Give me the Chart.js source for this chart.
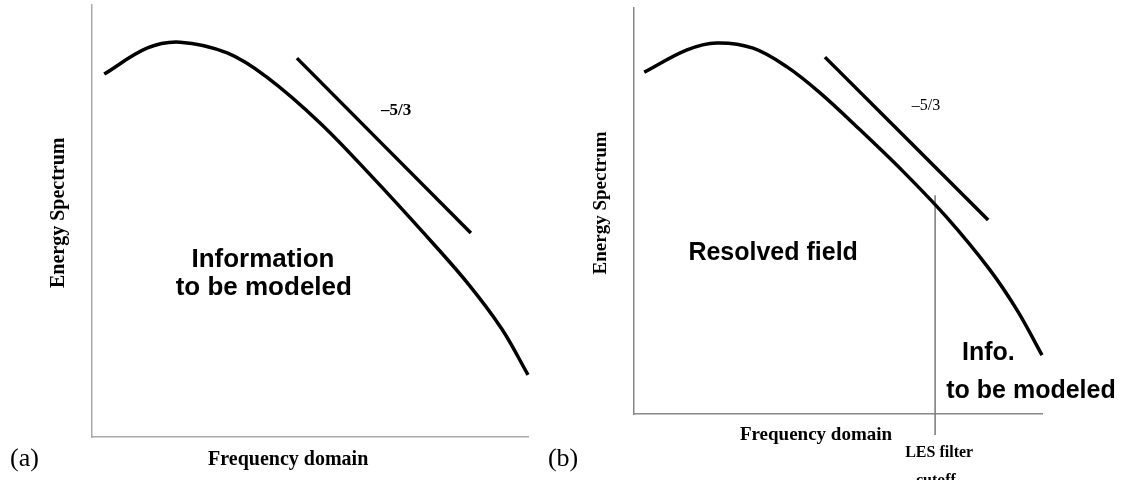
<!DOCTYPE html>
<html>
<head>
<meta charset="utf-8">
<script src="https://cdn.jsdelivr.net/npm/chart.js@4.4.1/dist/chart.umd.min.js"></script>
<style>
  html, body { margin: 0; padding: 0; background: #fff; }
  body { width: 1127px; height: 480px; position: relative; overflow: hidden; }
  .panel { position: absolute; top: 0; height: 480px; }
  #panelA { left: 0; width: 540px; }
  #panelB { left: 540px; width: 587px; }
</style>
</head>
<body>
<div class="panel" id="panelA"><canvas id="chartA" width="540" height="480"></canvas></div>
<div class="panel" id="panelB"><canvas id="chartB" width="587" height="480"></canvas></div>
<script>
// both axes are unitless, 0..100 across each plot box
const spectrumAX = [2.8, 12.6, 20.2, 31.0, 40.1, 52.3, 64.0, 76.0, 86.0, 94.0, 100];
const spectrumAY = [84.0, 90.0, 91.4, 88.9, 83.3, 72.7, 60.5, 47.3, 35.8, 25.0, 14.4];
const spectrumBX = [2.5, 13.0, 20.3, 29.2, 37.5, 45.6, 55.4, 66.0, 76.5, 87.0, 94.0, 100];
const spectrumBY = [84.2, 89.7, 91.4, 90.1, 85.5, 79.1, 70.0, 59.7, 48.6, 35.8, 25.4, 14.5];
const slopeAX = [47.0, 86.9];
const slopeAY = [87.7, 47.2];
const slopeBX = [46.8, 86.8];
const slopeBY = [87.9, 47.8];
const cutoffX = [73.8, 73.8];
const cutoffY = [53.9, -5.2];

function toPoints(xs, ys) {
  return xs.map((x, i) => ({ x, y: ys[i] }));
}

// draws the free text of each panel at data positions
const textPlugin = {
  id: 'panelText',
  afterDraw(chart, args, opts) {
    const { ctx, scales } = chart;
    (opts.items || []).forEach((item) => {
      const px = scales.x.getPixelForValue(item.x);
      const py = scales.y.getPixelForValue(item.y);
      ctx.save();
      ctx.fillStyle = '#000';
      ctx.font = item.font;
      ctx.textAlign = item.align || 'center';
      ctx.textBaseline = item.baseline || 'alphabetic';
      ctx.translate(px, py);
      if (item.rotate) {
        ctx.rotate(item.rotate);
      }
      ctx.fillText(item.text, 0, 0);
      ctx.restore();
    });
  },
};

function lineSet(points, width, color) {
  return {
    data: points,
    showLine: true,
    borderColor: color,
    borderWidth: width,
    pointRadius: 0,
    tension: 0.35,
    fill: false,
    clip: false,
    borderCapStyle: 'butt',
  };
}

function buildPanel(canvasId, datasets, padding, axisColor, items) {
  const hiddenAxis = {
    type: 'linear',
    min: 0,
    max: 100,
    ticks: { display: false },
    grid: { display: false, drawTicks: false },
    border: { display: true, color: axisColor, width: 1.5 },
    title: { display: false },
  };

  return new Chart(document.getElementById(canvasId), {
    type: 'scatter',
    data: { datasets },
    options: {
      responsive: false,
      animation: false,
      layout: { padding },
      plugins: {
        legend: { display: false },
        tooltip: { enabled: false },
        panelText: { items },
      },
      scales: {
        x: { ...hiddenAxis },
        y: { ...hiddenAxis },
      },
    },
    plugins: [textPlugin],
  });
}

const sansBold = (size) => `bold ${size}px "Liberation Sans", Arial, sans-serif`;
const serifBold = (size) => `bold ${size}px "Liberation Serif", "Times New Roman", serif`;
const serif = (size) => `${size}px "Liberation Serif", "Times New Roman", serif`;

buildPanel('chartA', [
  lineSet(toPoints(spectrumAX, spectrumAY), 3.5, '#000'),
  lineSet(toPoints(slopeAX, slopeAY), 3.5, '#000'),
], { left: 92, right: 12, top: 5, bottom: 43 }, '#aaa', [
  { text: 'Information', x: 39.2, y: 39.4, font: sansBold(26) },
  { text: 'to be modeled', x: 39.4, y: 32.9, font: sansBold(26) },
  { text: '\u20135/3', x: 66.3, y: 74.5, font: serifBold(17), align: 'left' },
  { text: 'Frequency domain', x: 45.0, y: -6.5, font: serifBold(20) },
  { text: 'Energy Spectrum', x: -7.6, y: 51.9, font: serifBold(20), baseline: 'middle', rotate: -Math.PI / 2 },
  { text: '(a)', x: -18.8, y: -6.7, font: serif(26), align: 'left' },
]);

buildPanel('chartB', [
  lineSet(toPoints(spectrumBX, spectrumBY), 3.5, '#000'),
  lineSet(toPoints(slopeBX, slopeBY), 3.5, '#000'),
  lineSet(toPoints(cutoffX, cutoffY), 1.5, '#777'),
], { left: 94, right: 85, top: 8, bottom: 66 }, '#888', [
  { text: 'Resolved field', x: 34.1, y: 37.9, font: sansBold(25) },
  { text: 'Info.', x: 80.4, y: 13.3, font: sansBold(25), align: 'left' },
  { text: 'to be modeled', x: 97.3, y: 3.9, font: sansBold(25) },
  { text: '\u20135/3', x: 68.1, y: 74.9, font: serif(16), align: 'left' },
  { text: 'Frequency domain', x: 44.6, y: -6.4, font: serifBold(19) },
  { text: 'Energy Spectrum', x: -8.1, y: 52.0, font: serifBold(19), baseline: 'middle', rotate: -Math.PI / 2 },
  { text: 'LES filter', x: 74.8, y: -10.6, font: serifBold(16) },
  { text: 'cutoff', x: 74.0, y: -17.6, font: serifBold(16) },
  { text: '(b)', x: -21.1, y: -12.8, font: serif(26), align: 'left' },
]);
</script>
</body>
</html>
